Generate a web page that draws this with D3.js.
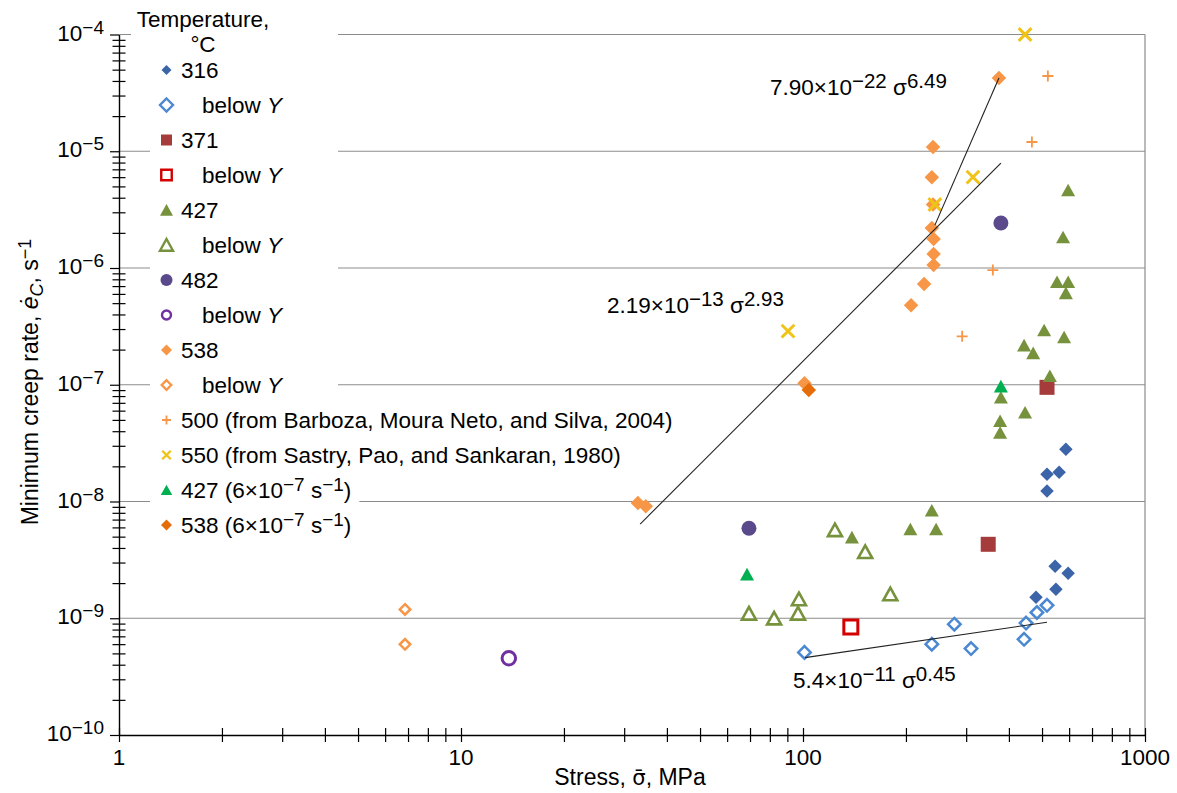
<!DOCTYPE html>
<html><head><meta charset="utf-8">
<script src="https://cdn.jsdelivr.net/npm/d3@7"></script>
<style>body{margin:0;background:#fff}svg{display:block;font-family:"Liberation Sans",Arial,Helvetica,sans-serif}</style>
</head><body><svg id="c" width="1177" height="793"></svg>
<script>
// ---------------- DATA (stress MPa, minimum creep rate s^-1) ----------------
const t316 = [[587,2.8e-8],[517,1.71e-8],[561,1.78e-8],[517,1.23e-8],[546,2.79e-9],[596,2.43e-9],[549,1.77e-9],[480,1.51e-9]];
const t316Below = [[101,5.1e-10],[238,6.0e-10],[277,8.9e-10],[310,5.5e-10],[443,6.6e-10],[449,9.1e-10],[483,1.12e-9],[517,1.29e-9]];
const t371 = [[348,4.3e-9],[517,9.5e-8]];
const t371Below = [[138,8.4e-10]];
const t427 = [[596,4.65e-6],[576,1.84e-6],[553,7.6e-7],[596,7.6e-7],[587,6.1e-7],[507,2.94e-7],[580,2.56e-7],[443,2.18e-7],[471,1.87e-7],[527,1.19e-7],[379,7.8e-8],[446,5.8e-8],[377,4.9e-8],[377,3.9e-8],[238,8.4e-9],[206,5.8e-9],[245,5.8e-9],[139,4.94e-9]];
const t427Below = [[124,5.7e-9],[152,3.7e-9],[180,1.61e-9],[97.3,1.46e-9],[69.5,1.1e-9],[82.3,1.0e-9],[96.7,1.1e-9]];
const t482 = [[379,2.43e-6],[69.5,5.9e-9]];
const t482Below = [[13.8,4.54e-10]];
const t538 = [[374,4.24e-5],[240,1.09e-5],[238,6.0e-6],[240,3.5e-6],[238,2.2e-6],[241,1.77e-6],[241,1.32e-6],[241,1.06e-6],[226,7.3e-7],[207,4.8e-7],[101,1.03e-7],[32.9,9.7e-9],[34.7,9.1e-9]];
const t538Below = [[6.86,1.19e-9],[6.86,5.98e-10]];
const barboza500 = [[520,4.41e-5],[467,1.2e-5],[359,9.6e-7],[292,2.6e-7]];
const sastry550 = [[446,1.0e-4],[314,6.0e-6],[243,3.5e-6],[90.4,2.88e-7]];
const t427Fixed = [[68.6,2.38e-9],[379,9.7e-8]];
const t538Fixed = [[104,9.0e-8]];

const legendTitle = ["Temperature,", "°C"];
const legendLabels = ["316","below *{Y}","371","below *{Y}","427","below *{Y}","482","below *{Y}","538","below *{Y}",
  "500 (from Barboza, Moura Neto, and Silva, 2004)","550 (from Sastry, Pao, and Sankaran, 1980)",
  "427 (6×10^{−7} s^{−1})","538 (6×10^{−7} s^{−1})"];

// fitted power-law lines: endpoints
const fitLabels = ["2.19×10^{−13} σ^{2.93}", "7.90×10^{−22} σ^{6.49}", "5.4×10^{−11} σ^{0.45}"];
const fitEnds = [
  [[33.4,6.4e-9],[379,7.9e-6]],
  [[243,2.33e-6],[374,4.24e-5]],
  [[101.4,4.6e-10],[517,9.25e-10]]
];

const xTickLabels = ["1","10","100","1000"];
const yTickExps = [-10,-9,-8,-7,-6,-5,-4];
const xTitle = "Stress, ~{σ̄}, MPa";
const yTitle = "Minimum creep rate, *{ė}_{*{C}}, s^{−1}";

// ---------------- STYLES ----------------
const seriesStyle = [
  {data:t316,      shape:"diamond", fill:"#3b64a9", stroke:"none", sw:0,   size:13.5, lsize:10},
  {data:t316Below, shape:"diamond", fill:"#fff",    stroke:"#4a88d2", sw:2.5, size:12.5, lsize:13},
  {data:t371,      shape:"square",  fill:"#a53b3b", stroke:"none", sw:0,   size:15, lsize:11},
  {data:t371Below, shape:"square",  fill:"#fff",    stroke:"#d40000", sw:3, size:14, lsize:10.5},
  {data:t427,      shape:"triangle",fill:"#76923c", stroke:"none", sw:0,   size:14, lsize:13},
  {data:t427Below, shape:"triangle",fill:"#fff",    stroke:"#76923c", sw:2.6, size:14, lsize:13},
  {data:t482,      shape:"circle",  fill:"#5a4a8c", stroke:"none", sw:0,   size:15, lsize:12},
  {data:t482Below, shape:"circle",  fill:"none",    stroke:"#7030a0", sw:3, size:13.5, lsize:9},
  {data:t538,      shape:"diamond", fill:"#f79646", stroke:"none", sw:0,   size:14.5, lsize:11},
  {data:t538Below, shape:"diamond", fill:"#fff",    stroke:"#f79646", sw:2.5, size:10.5, lsize:9.5},
  {data:barboza500,shape:"plus",    fill:"none",    stroke:"#f79646", sw:1.8, size:11, lsize:9},
  {data:sastry550, shape:"x",       fill:"none",    stroke:"#efc318", sw:3, size:15, lsize:10},
  {data:t427Fixed, shape:"triangle",fill:"#00b050", stroke:"none", sw:0,   size:14, lsize:11.5},
  {data:t538Fixed, shape:"diamond", fill:"#e46c0a", stroke:"none", sw:0,   size:14.5, lsize:11}
];
const FS = 22.5, SUP = 19, FITSUP = 20.5;

function markerPath(shape, s){
  const h = s/2;
  switch(shape){
    case "diamond": return `M0,${-h}L${h},0L0,${h}L${-h},0Z`;
    case "square": return `M${-h},${-h}H${h}V${h}H${-h}Z`;
    case "triangle": return `M0,${-0.46*s}L${h},${0.44*s}L${-h},${0.44*s}Z`;
    case "circle": return d3.arc()({innerRadius:0,outerRadius:h,startAngle:0,endAngle:2*Math.PI});
    case "plus": return `M${-h},0H${h}M0,${-h}V${h}`;
    case "x": { const k=h*0.85; return `M${-k},${-k}L${k},${k}M${-k},${k}L${k},${-k}`; }
  }
}
// mini markup: ^{sup} _{sub} *{italic} ~{DejaVu (for combining marks)}
function rich(sel, str, supSize){
  const re = /(\^|_|\*|~)\{((?:[^{}]|\*\{[^}]*\})*)\}/g;
  let last = 0, m, off = 0;
  const add = (t, kind, italic, dv) => {
    const target = kind==="sup" ? -7 : kind==="sub" ? 5 : 0;
    let it = italic, txt = t;
    const im = /^\*\{(.*)\}$/.exec(t);
    if (im){ txt = im[1]; it = true; }
    const ts = sel.append("tspan").text(txt).attr("dy", target-off);
    off = target;
    if (kind) ts.attr("font-size", supSize);
    if (it) ts.attr("font-style","italic");
    if (dv) ts.attr("font-family","DejaVu Sans").attr("font-size", parseFloat(sel.attr("font-size"))*0.92);
  };
  while((m = re.exec(str))){
    if (m.index > last) add(str.slice(last, m.index), null, false);
    if (m[1]==="^") add(m[2],"sup",false);
    else if (m[1]==="_") add(m[2],"sub",false);
    else if (m[1]==="~") add(m[2],null,false,true);
    else add(m[2],null,true);
    last = re.lastIndex;
  }
  if (last < str.length) add(str.slice(last), null, false);
  return sel;
}

// ---------------- SCALES ----------------
const svg = d3.select("#c");
const x = d3.scaleLog().domain([1,1000]).range([119,1145]);
const y = d3.scaleLog().domain([1e-10,1e-4]).range([735,34.5]);
const [X0,X1] = x.range(), [Y0,Y1] = y.range();

const yMajor = yTickExps.map(e => Math.pow(10,e));
const yMinor = [];
yTickExps.slice(0,-1).forEach(e => { for(let k=2;k<=9;k++) yMinor.push(k*Math.pow(10,e)); });
const xMajor = xTickLabels.map(Number);
const xMinor = [];
xMajor.slice(0,-1).forEach(d => { for(let k=2;k<=9;k++) xMinor.push(k*d); });

// gridlines
svg.append("g").selectAll("line").data(yMajor.slice(1)).join("line")
  .attr("x1",X0).attr("x2",X1).attr("y1",d=>y(d)).attr("y2",d=>y(d))
  .attr("stroke","#8c8c8c").attr("stroke-width",1.2);
svg.append("line").attr("x1",X1).attr("x2",X1).attr("y1",Y1).attr("y2",Y0)
  .attr("stroke","#8c8c8c").attr("stroke-width",1.2);

// ---------------- LEGEND ----------------
const lg = svg.append("g");
const LX = 166.5, LY0 = 70, LDY = 35;
lg.append("rect").attr("x",131).attr("y",4).attr("width",338-131).attr("height",LY0-LDY/2-4).attr("fill","#fff");
lg.append("text").attr("x",203).attr("y",27).attr("text-anchor","middle").attr("font-size",FS).text(legendTitle[0]);
lg.append("text").attr("x",203).attr("y",52).attr("text-anchor","middle").attr("font-size",FS).text(legendTitle[1]);
legendLabels.forEach((lab,i) => {
  const cy = LY0 + i*LDY;
  const st = seriesStyle[i];
  const row = lg.append("g");
  const bg = row.append("rect").attr("fill","#fff");
  const t = row.append("text").attr("x", lab.startsWith("below") ? 202 : 181).attr("y", cy+8).attr("font-size",FS);
  rich(t, lab, SUP);
  const bb = t.node().getBBox();
  const right = Math.max(338, bb.x + bb.width + 8);
  bg.attr("x",150).attr("y",cy-LDY/2).attr("width",right-150).attr("height",LDY);
  row.append("path").attr("transform",`translate(${LX},${cy})`).attr("d",markerPath(st.shape, st.lsize))
    .attr("fill",st.fill).attr("stroke",st.stroke).attr("stroke-width",st.sw ? Math.min(st.sw,2.4) : 0);
});

// ---------------- MARKS ----------------
seriesStyle.forEach(st => {
  svg.append("g").selectAll("path").data(st.data).join("path")
    .attr("transform", d => `translate(${x(d[0])},${y(d[1])})`)
    .attr("d", markerPath(st.shape, st.size))
    .attr("fill", st.fill).attr("stroke", st.stroke).attr("stroke-width", st.sw);
});

// fit lines
const line = d3.line().x(d=>x(d[0])).y(d=>y(d[1]));
svg.append("g").selectAll("path").data(fitEnds).join("path")
  .attr("d", line).attr("fill","none").attr("stroke","#222").attr("stroke-width",1.1);
const fitPos = [[607,313],[770,95],[793,688]];
fitLabels.forEach((lab,i) => {
  rich(svg.append("text").attr("x",fitPos[i][0]).attr("y",fitPos[i][1]).attr("font-size",FS), lab, FITSUP);
});

// ---------------- AXES ----------------
const xAxis = svg.append("g").attr("transform",`translate(0,${Y0})`)
  .call(d3.axisBottom(x).tickValues(xMajor.concat(xMinor)).tickSize(7).tickSizeOuter(0).tickFormat(""));
xAxis.selectAll(".tick line").attr("y1",-7).attr("y2",7).attr("stroke","#000").attr("stroke-width",1.2);
xAxis.select(".domain").attr("stroke","#000").attr("stroke-width",1.4);
xAxis.selectAll(".tick text").remove();
svg.append("g").selectAll("text").data(xMajor).join("text")
  .attr("x",d=>x(d)).attr("y",765).attr("text-anchor","middle").attr("font-size",FS)
  .text((d,i)=>xTickLabels[i]);

const yAxis = svg.append("g").attr("transform",`translate(${X0},0)`)
  .call(d3.axisLeft(y).tickValues(yMajor.concat(yMinor)).tickSize(9).tickSizeOuter(0).tickFormat(""));
yAxis.selectAll(".tick line").attr("stroke","#000").attr("stroke-width",1.2)
  .attr("x1", d => yMajor.includes(d) ? 0 : 6.5).attr("x2", d => yMajor.includes(d) ? -9 : -6.5);
yAxis.select(".domain").attr("stroke","#000").attr("stroke-width",1.4);
yAxis.selectAll(".tick text").remove();
yTickExps.forEach((e,i) => {
  const t = svg.append("text").attr("x",104).attr("y",y(yMajor[i])+6).attr("text-anchor","end").attr("font-size",FS);
  rich(t, `10^{${e<0?"−"+(-e):e}}`, SUP);
});

// axis titles
rich(svg.append("text").attr("x",630).attr("y",785).attr("text-anchor","middle").attr("font-size",23), xTitle, 18);
rich(svg.append("text").attr("transform","translate(38,382) rotate(-90)").attr("text-anchor","middle").attr("font-size",23), yTitle, 18);
</script></body></html>
